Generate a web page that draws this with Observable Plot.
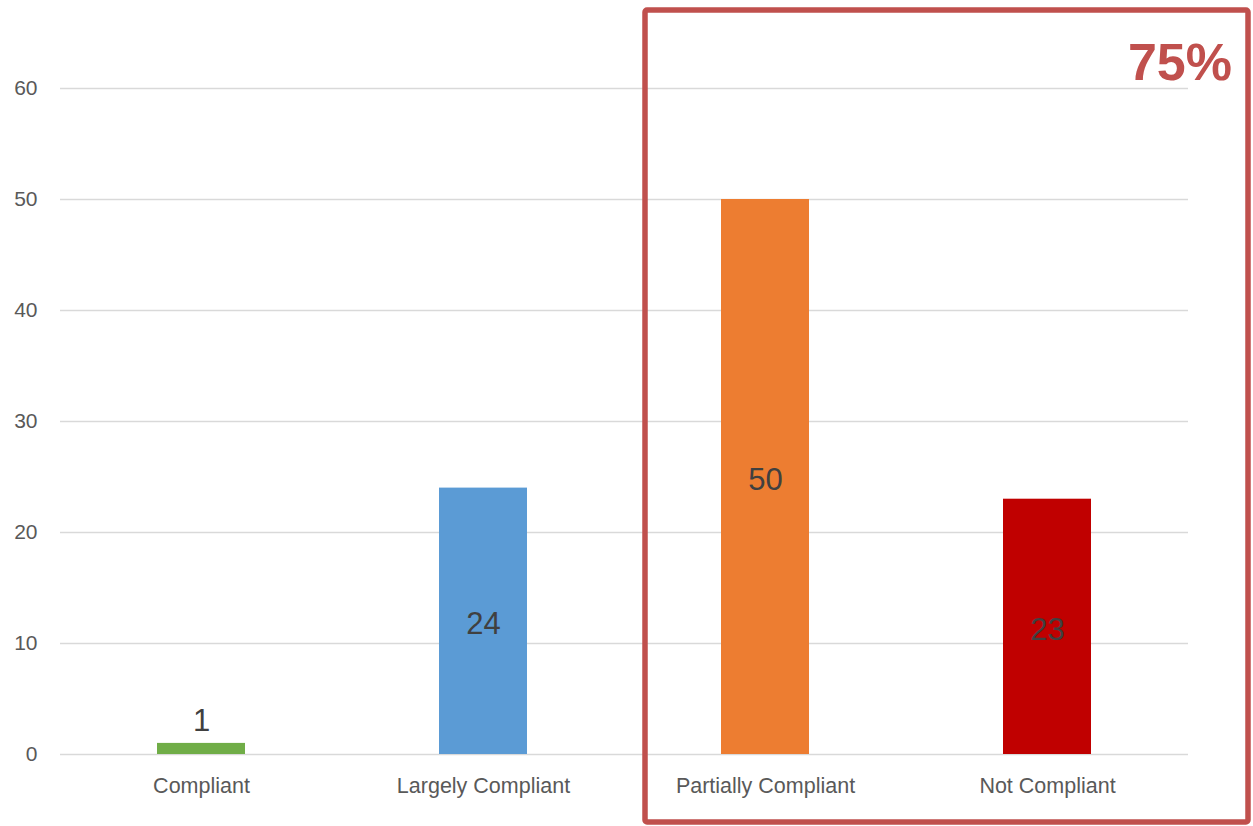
<!DOCTYPE html>
<html>
<head>
<meta charset="utf-8">
<script src="https://cdn.jsdelivr.net/npm/d3@7"></script>
<script src="https://cdn.jsdelivr.net/npm/@observablehq/plot@0.6"></script>
<style>
  html, body { margin: 0; padding: 0; background: #ffffff; }
  #chart { width: 1253px; height: 826px; }
</style>
</head>
<body>
<div id="chart"></div>
<script>
const categories = ["Compliant", "Largely Compliant", "Partially Compliant", "Not Compliant"];
const values = [1, 24, 50, 23];
const barColors = ["#70ad47", "#5b9bd5", "#ed7d31", "#c00000"];
const yTicks = [0, 10, 20, 30, 40, 50, 60];
const highlightFrom = "Partially Compliant";
const highlightTo = "Not Compliant";
const highlightLabel = "75%";

const data = categories.map((c, i) => ({category: c, value: values[i], color: barColors[i]}));
const font = "'Liberation Sans', Arial, sans-serif";
const boxColor = "#c0504d";

const chart = Plot.plot({
  width: 1253,
  height: 826,
  marginLeft: 60,
  marginRight: 65,
  marginTop: 88,
  marginBottom: 72,
  style: {fontFamily: font, background: "#ffffff", overflow: "visible"},
  x: {domain: categories, padding: 0, label: null},
  y: {domain: [0, 60], label: null},
  marks: [
    Plot.gridY(yTicks, {stroke: "#d9d9d9", strokeOpacity: 1, strokeWidth: 1.5}),
    Plot.axisY(yTicks, {tickSize: 0, tickPadding: 23, fontSize: 21, fill: "#595959", label: null}),
    Plot.axisX({tickSize: 0, tickPadding: 23, fontSize: 21.5, fill: "#595959", label: null}),
    Plot.barY(data, {x: "category", y: "value", fill: "color", insetLeft: 97, insetRight: 97}),
    Plot.text(data.filter(d => d.value >= 5), {
      x: "category", y: d => d.value / 2, text: d => String(d.value),
      fontSize: 31, fill: "#404040", textAnchor: "middle", lineAnchor: "middle", dy: 3
    }),
    Plot.text(data.filter(d => d.value < 5), {
      x: "category", y: "value", text: d => String(d.value),
      fontSize: 31, fill: "#404040", textAnchor: "middle", lineAnchor: "middle", dy: -22
    }),
    // highlight box spanning the two categories
    function (index, scales, values, dimensions, context) {
      const x0 = scales.x(highlightFrom);
      const x1 = scales.x(highlightTo) + scales.x.bandwidth();
      const yTop = scales.y(60);
      const yBot = scales.y(0);
      const g = d3.create("svg:g");
      g.append("rect")
        .attr("x", x0 + 21)
        .attr("y", yTop - 78)
        .attr("width", (x1 + 60) - (x0 + 21))
        .attr("height", (yBot + 68) - (yTop - 78))
        .attr("fill", "none")
        .attr("stroke", boxColor)
        .attr("stroke-width", 5.5)
        .attr("rx", 2);
      g.append("text")
        .attr("x", x1 + 44)
        .attr("y", yTop - 8)
        .attr("text-anchor", "end")
        .attr("font-family", font)
        .attr("font-weight", "bold")
        .attr("font-size", 52)
        .attr("fill", boxColor)
        .text(highlightLabel);
      return g.node();
    }
  ]
});
document.getElementById("chart").appendChild(chart);
</script>
</body>
</html>
